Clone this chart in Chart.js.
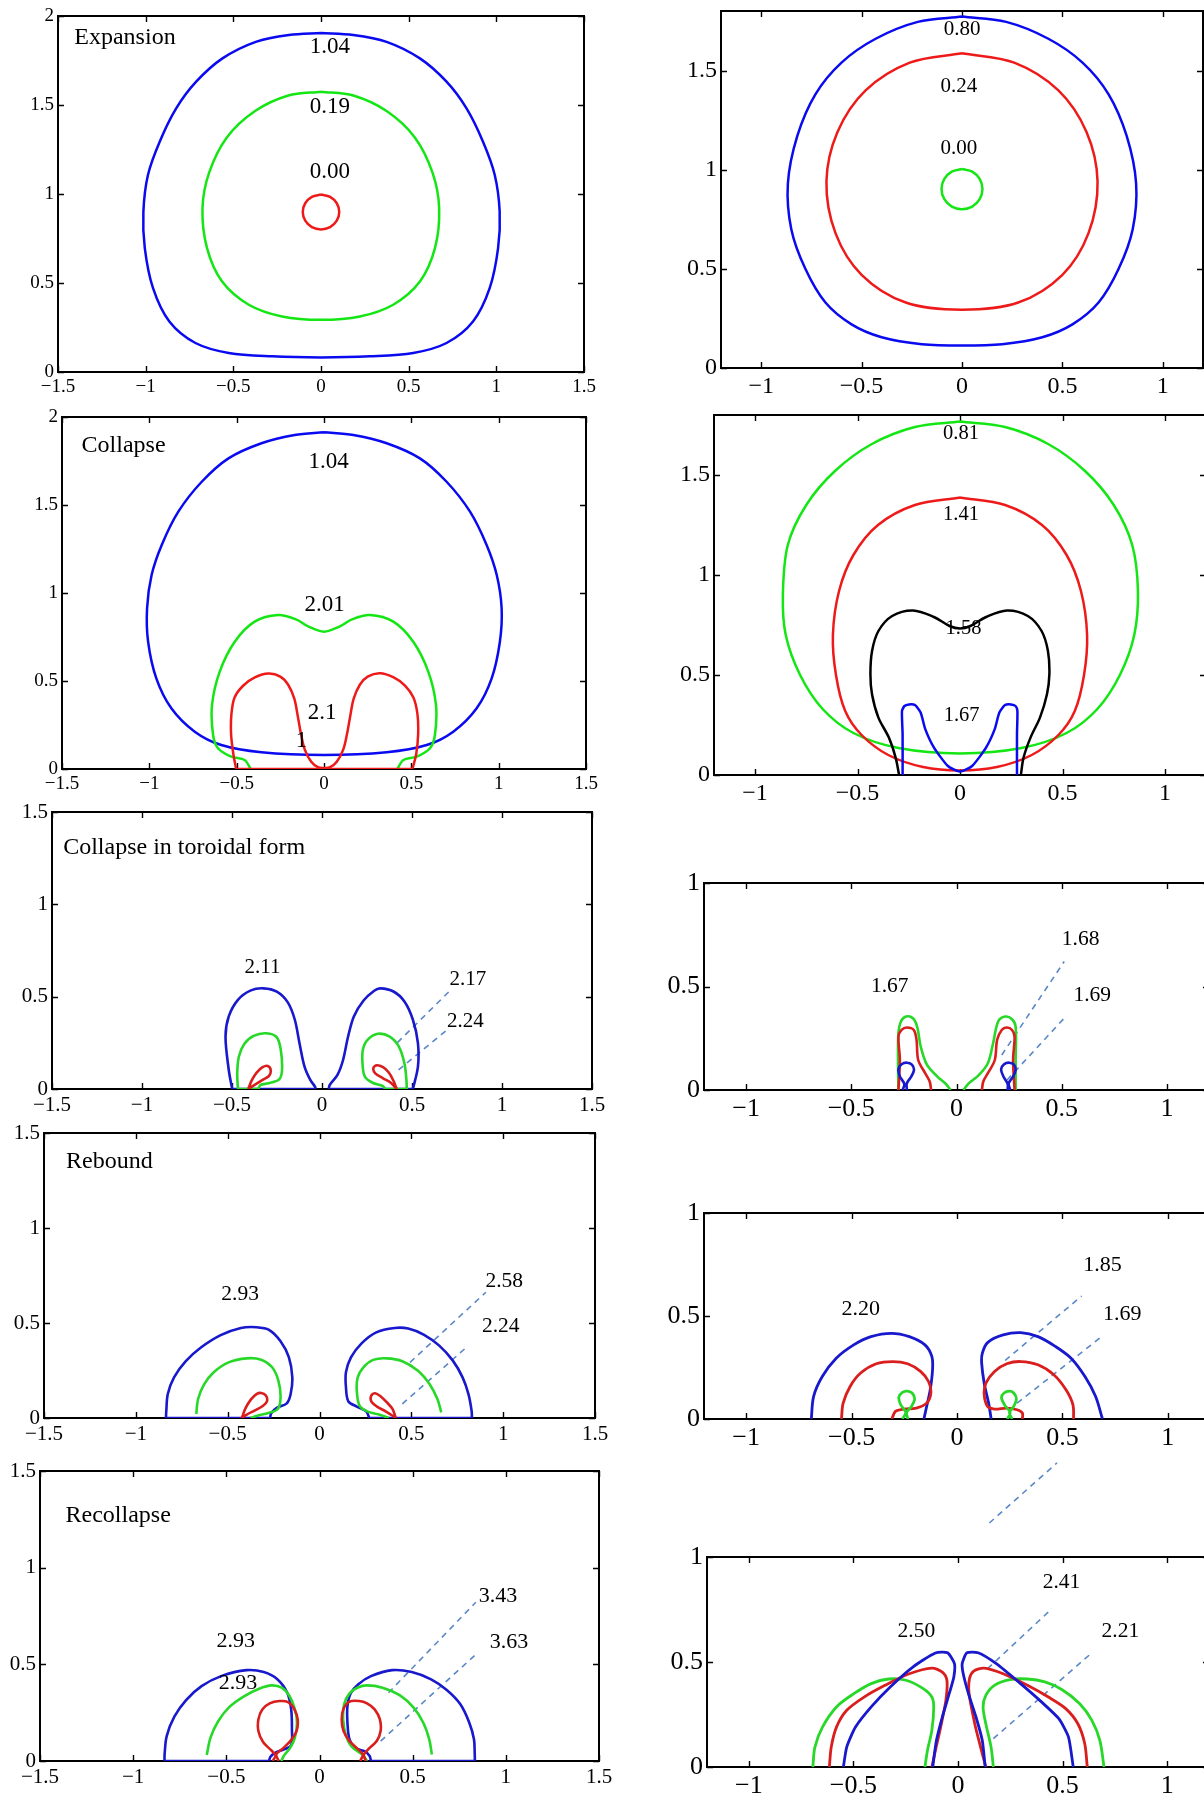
<!DOCTYPE html>
<html>
<head>
<meta charset="utf-8">
<title>Bubble contours</title>
<script src="https://cdn.jsdelivr.net/npm/chart.js@4.4.1/dist/chart.umd.min.js"></script>
<style>
  html, body { margin: 0; padding: 0; background: #fff; }
  body { position: relative; width: 1204px; height: 1798px; overflow: hidden; }
  canvas { position: absolute; }
</style>
</head>
<body>
<script>
/* Contour panels: left column and right column, five stages each */

// tick values
var X_WIDE = [-1.5, -1, -0.5, 0, 0.5, 1, 1.5];
var X_NARROW = [-1, -0.5, 0, 0.5, 1];
var Y_TWO = [0, 0.5, 1, 1.5, 2];
var Y_ONE_HALF = [0, 0.5, 1, 1.5];
var Y_ONE = [0, 0.5, 1];

// --- left column: expansion ---
var expBlue = [[0,1.904],[0.184,1.893],[0.374,1.855],[0.564,1.762],[0.716,1.631],[0.830,1.481],[0.924,1.294],[0.991,1.107],[1.019,0.901],[1.010,0.696],[0.962,0.471],[0.867,0.284],[0.716,0.163],[0.526,0.107],[0.279,0.088],[0,0.082],[-0.279,0.088],[-0.526,0.107],[-0.716,0.163],[-0.865,0.284],[-0.958,0.471],[-1.005,0.696],[-1.013,0.901],[-0.987,1.107],[-0.920,1.294],[-0.826,1.481],[-0.712,1.631],[-0.562,1.762],[-0.372,1.855],[-0.183,1.893],[0,1.904]];
var expGreen = [[0,1.575],[0.184,1.553],[0.374,1.466],[0.535,1.318],[0.636,1.120],[0.674,0.920],[0.650,0.696],[0.564,0.508],[0.412,0.378],[0.222,0.312],[0,0.293],[-0.222,0.312],[-0.412,0.378],[-0.564,0.508],[-0.650,0.696],[-0.676,0.920],[-0.638,1.120],[-0.537,1.318],[-0.376,1.466],[-0.186,1.553],[0,1.575]];
var expRed = [[0,0.997],[0.052,0.984],[0.090,0.948],[0.104,0.899],[0.090,0.850],[0.052,0.814],[0,0.801],[-0.052,0.814],[-0.090,0.850],[-0.104,0.899],[-0.090,0.948],[-0.052,0.984],[0,0.997]];

// --- left column: collapse ---
var colBlue = [[0,1.913],[0.168,1.898],[0.359,1.851],[0.549,1.765],[0.702,1.632],[0.836,1.462],[0.931,1.273],[0.989,1.102],[1.017,0.913],[1.007,0.723],[0.960,0.515],[0.874,0.345],[0.740,0.212],[0.588,0.136],[0.359,0.095],[0,0.080],[-0.359,0.095],[-0.588,0.136],[-0.740,0.212],[-0.874,0.345],[-0.960,0.515],[-1.007,0.723],[-1.013,0.913],[-0.987,1.102],[-0.929,1.273],[-0.834,1.462],[-0.700,1.632],[-0.547,1.765],[-0.358,1.851],[-0.168,1.898],[0,1.913]];
var colGreen = [[-0.420,0],[-0.454,0.051],[-0.531,0.070],[-0.607,0.118],[-0.635,0.193],[-0.641,0.364],[-0.597,0.553],[-0.511,0.723],[-0.397,0.837],[-0.263,0.875],[-0.160,0.850],[-0.088,0.809],[0,0.780],[0.088,0.809],[0.160,0.850],[0.263,0.875],[0.397,0.837],[0.511,0.723],[0.597,0.553],[0.641,0.364],[0.635,0.193],[0.607,0.118],[0.531,0.070],[0.454,0.051],[0.420,0]];
var colRed = [[-0.503,0],[-0.519,0.085],[-0.532,0.198],[-0.530,0.312],[-0.512,0.406],[-0.463,0.473],[-0.396,0.520],[-0.318,0.542],[-0.250,0.525],[-0.206,0.480],[-0.170,0.400],[-0.150,0.300],[-0.132,0.200],[-0.110,0.110],[-0.073,0.041],[-0.035,0.010],[0,0.006],[0.035,0.010],[0.073,0.041],[0.110,0.110],[0.132,0.200],[0.150,0.300],[0.170,0.400],[0.206,0.480],[0.250,0.525],[0.320,0.544],[0.399,0.520],[0.465,0.473],[0.512,0.406],[0.535,0.312],[0.539,0.198],[0.528,0.085],[0.506,0]];
var colRedBase = [[-0.503,0],[0.506,0]];

// --- left column: collapse in toroidal form ---
var torBlueL = [[-0.499,0],[-0.518,0.103],[-0.536,0.284],[-0.518,0.393],[-0.467,0.483],[-0.395,0.534],[-0.324,0.545],[-0.251,0.527],[-0.190,0.469],[-0.151,0.375],[-0.125,0.248],[-0.097,0.121],[-0.065,0.049],[-0.039,0.013],[-0.035,0]];
var torBlueR = [[0.037,0],[0.043,0.022],[0.086,0.076],[0.117,0.157],[0.145,0.284],[0.177,0.393],[0.231,0.479],[0.290,0.532],[0.324,0.545],[0.397,0.528],[0.458,0.474],[0.505,0.375],[0.533,0.248],[0.533,0.121],[0.505,0]];
var torBlueBaseL = [[-0.499,0],[-0.035,0]];
var torBlueBaseR = [[0.037,0],[0.505,0]];
var torGreenL = [[-0.467,0],[-0.471,0.085],[-0.462,0.175],[-0.432,0.244],[-0.380,0.288],[-0.309,0.302],[-0.251,0.280],[-0.229,0.212],[-0.222,0.103],[-0.238,0.052],[-0.298,0.031],[-0.341,0.022],[-0.354,0]];
var torGreenR = [[0.350,0],[0.339,0.016],[0.281,0.034],[0.238,0.067],[0.225,0.139],[0.227,0.212],[0.253,0.266],[0.311,0.299],[0.376,0.284],[0.425,0.233],[0.458,0.139],[0.469,0.049],[0.471,0]];
var torGreenBaseL = [[-0.467,0],[-0.354,0]];
var torGreenBaseR = [[0.350,0],[0.471,0]];
var torRedL = [[-0.410,0],[-0.389,0.049],[-0.363,0.089],[-0.330,0.118],[-0.302,0.125],[-0.285,0.103],[-0.294,0.071],[-0.330,0.049],[-0.374,0.022],[-0.410,0]];
var torRedR = [[0.415,0],[0.382,0.034],[0.339,0.058],[0.296,0.085],[0.285,0.112],[0.302,0.128],[0.339,0.118],[0.371,0.089],[0.397,0.045],[0.415,0]];
var torLead1 = [[0.419,0.251],[0.706,0.528]];
var torLead2 = [[0.425,0.103],[0.695,0.320]];

// --- left column: rebound ---
var rebBlueL = [[-0.836,0],[-0.834,0.039],[-0.826,0.126],[-0.792,0.214],[-0.728,0.299],[-0.644,0.372],[-0.538,0.436],[-0.428,0.474],[-0.343,0.478],[-0.275,0.464],[-0.212,0.404],[-0.167,0.320],[-0.148,0.214],[-0.157,0.126],[-0.178,0.077],[-0.233,0.053],[-0.263,0.025],[-0.269,0]];
var rebBlueR = [[0.271,0],[0.254,0.035],[0.203,0.060],[0.157,0.088],[0.144,0.162],[0.144,0.241],[0.172,0.320],[0.229,0.393],[0.309,0.451],[0.409,0.474],[0.483,0.471],[0.567,0.439],[0.652,0.381],[0.726,0.302],[0.779,0.214],[0.811,0.126],[0.828,0.039],[0.830,0]];
var rebBlueBaseL = [[-0.836,0],[-0.269,0]];
var rebBlueBaseR = [[0.271,0],[0.830,0]];
var rebGreenL = [[-0.671,0.021],[-0.661,0.100],[-0.629,0.176],[-0.576,0.241],[-0.495,0.293],[-0.396,0.314],[-0.318,0.307],[-0.258,0.267],[-0.224,0.197],[-0.212,0.109],[-0.227,0.047],[-0.279,0.026],[-0.339,0.012],[-0.375,0]];
var rebGreenR = [[0.377,0],[0.324,0.018],[0.260,0.035],[0.218,0.065],[0.203,0.144],[0.208,0.214],[0.239,0.267],[0.292,0.306],[0.366,0.314],[0.451,0.299],[0.536,0.249],[0.599,0.179],[0.642,0.100],[0.663,0.030]];
var rebRedL = [[-0.423,0],[-0.402,0.053],[-0.373,0.098],[-0.343,0.126],[-0.318,0.132],[-0.292,0.118],[-0.286,0.088],[-0.309,0.063],[-0.354,0.039],[-0.396,0.018],[-0.423,0]];
var rebRedR = [[0.415,0],[0.398,0.047],[0.366,0.083],[0.335,0.112],[0.303,0.130],[0.282,0.118],[0.282,0.088],[0.313,0.060],[0.360,0.035],[0.398,0.012],[0.415,0]];
var rebLead1 = [[0.493,0.293],[0.906,0.662]];
var rebLead2 = [[0.451,0.074],[0.800,0.372]];

// --- left column: recollapse ---
var recBlueL = [[-0.832,0],[-0.831,0.038],[-0.820,0.129],[-0.779,0.229],[-0.716,0.315],[-0.633,0.387],[-0.528,0.439],[-0.392,0.470],[-0.299,0.460],[-0.225,0.422],[-0.173,0.353],[-0.152,0.267],[-0.148,0.164],[-0.152,0.081],[-0.190,0.060],[-0.236,0.043],[-0.263,0.022],[-0.271,0]];
var recBlueR = [[0.276,0],[0.269,0.026],[0.244,0.050],[0.192,0.067],[0.161,0.112],[0.150,0.198],[0.150,0.284],[0.167,0.350],[0.207,0.396],[0.276,0.439],[0.390,0.470],[0.495,0.460],[0.599,0.422],[0.683,0.367],[0.756,0.293],[0.804,0.198],[0.829,0.112],[0.833,0.038],[0.834,0]];
var recBlueBaseL = [[-0.832,0],[-0.271,0]];
var recBlueBaseR = [[0.276,0],[0.834,0]];
var recGreenL = [[-0.605,0.031],[-0.585,0.121],[-0.543,0.207],[-0.482,0.281],[-0.403,0.336],[-0.324,0.374],[-0.257,0.391],[-0.203,0.379],[-0.161,0.336],[-0.132,0.267],[-0.121,0.198],[-0.132,0.121],[-0.157,0.069],[-0.190,0.029],[-0.205,0]];
var recGreenR = [[0.255,0],[0.234,0.029],[0.171,0.077],[0.140,0.138],[0.127,0.215],[0.132,0.293],[0.161,0.350],[0.203,0.379],[0.255,0.391],[0.338,0.379],[0.432,0.339],[0.505,0.276],[0.557,0.198],[0.589,0.112],[0.603,0.034]];
var recRedL = [[-0.251,0],[-0.236,0.029],[-0.261,0.057],[-0.303,0.098],[-0.328,0.155],[-0.328,0.215],[-0.307,0.267],[-0.267,0.298],[-0.215,0.310],[-0.169,0.305],[-0.136,0.270],[-0.117,0.215],[-0.123,0.155],[-0.157,0.103],[-0.198,0.064],[-0.232,0.034],[-0.219,0]];
var recRedR = [[0.219,0],[0.234,0.029],[0.265,0.064],[0.307,0.103],[0.328,0.155],[0.324,0.215],[0.296,0.267],[0.255,0.298],[0.213,0.310],[0.161,0.307],[0.129,0.270],[0.119,0.215],[0.129,0.155],[0.161,0.103],[0.203,0.064],[0.234,0.034],[0.248,0]];
var recLead1 = [[0.370,0.353],[0.839,0.821]];
var recLead2 = [[0.328,0.103],[0.833,0.546]];

// --- right column: expansion ---
var exp2Blue = [[0,1.772],[0.22,1.745],[0.43,1.66],[0.60,1.54],[0.73,1.38],[0.82,1.17],[0.867,0.93],[0.85,0.70],[0.78,0.50],[0.68,0.33],[0.55,0.22],[0.40,0.155],[0.20,0.12],[0,0.113],[-0.20,0.12],[-0.40,0.155],[-0.55,0.22],[-0.68,0.33],[-0.78,0.50],[-0.85,0.70],[-0.867,0.93],[-0.82,1.17],[-0.73,1.38],[-0.60,1.54],[-0.43,1.66],[-0.22,1.745],[0,1.772]];
var exp2Red = [[0,1.587],[0.26,1.54],[0.48,1.40],[0.62,1.19],[0.675,0.94],[0.63,0.68],[0.50,0.47],[0.28,0.33],[0,0.294],[-0.28,0.33],[-0.50,0.47],[-0.63,0.68],[-0.675,0.94],[-0.62,1.19],[-0.48,1.40],[-0.26,1.54],[0,1.587]];
var exp2Green = [[0,1.003],[0.051,0.990],[0.088,0.953],[0.102,0.902],[0.088,0.851],[0.051,0.814],[0,0.801],[-0.051,0.814],[-0.088,0.851],[-0.102,0.902],[-0.088,0.953],[-0.051,0.990],[0,1.003]];

// --- right column: collapse ---
var col2Green = [[0,1.767],[0.22,1.74],[0.43,1.655],[0.61,1.52],[0.75,1.35],[0.84,1.15],[0.868,0.92],[0.85,0.70],[0.78,0.50],[0.67,0.33],[0.52,0.21],[0.30,0.135],[0,0.108],[-0.30,0.135],[-0.52,0.21],[-0.67,0.33],[-0.78,0.50],[-0.85,0.70],[-0.864,0.90],[-0.84,1.15],[-0.75,1.35],[-0.61,1.52],[-0.43,1.655],[-0.22,1.74],[0,1.767]];
var col2Red = [[0,1.387],[0.22,1.35],[0.40,1.25],[0.52,1.10],[0.59,0.92],[0.62,0.70],[0.605,0.50],[0.56,0.32],[0.48,0.20],[0.35,0.10],[0.18,0.04],[0,0.023],[-0.18,0.04],[-0.35,0.10],[-0.48,0.20],[-0.56,0.32],[-0.605,0.50],[-0.62,0.70],[-0.59,0.92],[-0.52,1.10],[-0.40,1.25],[-0.22,1.35],[0,1.387]];
var col2Black = [[-0.297,0],[-0.314,0.087],[-0.347,0.187],[-0.398,0.287],[-0.429,0.403],[-0.437,0.503],[-0.429,0.620],[-0.398,0.720],[-0.331,0.795],[-0.229,0.823],[-0.127,0.790],[-0.051,0.745],[0,0.733],[0.051,0.745],[0.127,0.790],[0.229,0.823],[0.331,0.795],[0.398,0.720],[0.429,0.620],[0.436,0.503],[0.424,0.403],[0.390,0.287],[0.344,0.187],[0.310,0.087],[0.297,0]];
var col2Blue = [[-0.280,0],[-0.280,0.203],[-0.283,0.320],[-0.271,0.345],[-0.249,0.353],[-0.220,0.350],[-0.192,0.312],[-0.169,0.228],[-0.127,0.137],[-0.059,0.045],[0,0.017],[0.059,0.045],[0.127,0.137],[0.169,0.228],[0.192,0.312],[0.220,0.350],[0.249,0.353],[0.271,0.345],[0.280,0.320],[0.278,0.203],[0.278,0]];

// --- right column: toroidal collapse ---
var tor2GreenL = [[-0.276,0],[-0.278,0.145],[-0.276,0.274],[-0.264,0.331],[-0.240,0.355],[-0.207,0.347],[-0.187,0.306],[-0.170,0.210],[-0.140,0.121],[-0.091,0.065],[-0.050,0.029],[-0.028,0]];
var tor2GreenR = [[0.033,0],[0.058,0.032],[0.107,0.073],[0.149,0.129],[0.174,0.226],[0.198,0.331],[0.231,0.355],[0.264,0.342],[0.281,0.306],[0.281,0.145],[0.281,0]];
var tor2RedL = [[-0.276,0],[-0.269,0.145],[-0.276,0.258],[-0.261,0.290],[-0.236,0.302],[-0.203,0.290],[-0.190,0.242],[-0.182,0.145],[-0.149,0.081],[-0.127,0.040],[-0.121,0]];
var tor2RedR = [[0.121,0],[0.127,0.040],[0.149,0.081],[0.182,0.145],[0.193,0.242],[0.215,0.290],[0.240,0.302],[0.264,0.290],[0.276,0.258],[0.269,0.145],[0.276,0]];
var tor2BlueL = [[-0.256,0],[-0.248,0.029],[-0.269,0.065],[-0.276,0.100],[-0.261,0.124],[-0.236,0.132],[-0.212,0.123],[-0.202,0.097],[-0.215,0.065],[-0.236,0.032],[-0.236,0]];
var tor2BlueR = [[0.243,0],[0.243,0.029],[0.223,0.065],[0.212,0.100],[0.226,0.124],[0.250,0.132],[0.273,0.123],[0.281,0.097],[0.269,0.065],[0.248,0.032],[0.256,0]];
var tor2Lead1 = [[0.215,0.169],[0.512,0.621]];
var tor2Lead2 = [[0.240,0.048],[0.512,0.347]];

// --- right column: rebound ---
var reb2BlueL = [[-0.691,0],[-0.680,0.110],[-0.639,0.206],[-0.573,0.295],[-0.490,0.360],[-0.408,0.400],[-0.312,0.416],[-0.226,0.400],[-0.152,0.360],[-0.119,0.303],[-0.116,0.239],[-0.127,0.142],[-0.144,0.061],[-0.157,0]];
var reb2BlueR = [[0.162,0],[0.150,0.077],[0.129,0.174],[0.117,0.271],[0.120,0.319],[0.145,0.371],[0.219,0.408],[0.302,0.419],[0.384,0.400],[0.467,0.352],[0.541,0.295],[0.607,0.206],[0.657,0.110],[0.690,0]];
var reb2RedL = [[-0.548,0],[-0.540,0.077],[-0.507,0.158],[-0.457,0.223],[-0.383,0.268],[-0.305,0.279],[-0.234,0.268],[-0.173,0.231],[-0.135,0.182],[-0.124,0.126],[-0.144,0.077],[-0.193,0.053],[-0.251,0.048],[-0.292,0.037],[-0.309,0]];
var reb2RedR = [[0.310,0],[0.310,0.029],[0.285,0.045],[0.236,0.053],[0.178,0.048],[0.145,0.061],[0.129,0.118],[0.137,0.174],[0.178,0.231],[0.236,0.268],[0.302,0.279],[0.384,0.263],[0.459,0.215],[0.517,0.142],[0.550,0.069],[0.553,0]];
var reb2GreenL = [[-0.259,0],[-0.243,0.032],[-0.267,0.069],[-0.276,0.106],[-0.259,0.129],[-0.236,0.135],[-0.213,0.126],[-0.201,0.097],[-0.216,0.061],[-0.239,0.032],[-0.233,0]];
var reb2GreenR = [[0.239,0],[0.252,0.032],[0.228,0.065],[0.211,0.102],[0.223,0.126],[0.249,0.135],[0.269,0.126],[0.282,0.097],[0.269,0.061],[0.249,0.032],[0.261,0]];
var reb2Lead1 = [[0.228,0.284],[0.591,0.597]];
var reb2Lead2 = [[0.285,0.077],[0.690,0.403]];

// --- right column: recollapse ---
var rec2GreenL = [[-0.694,0],[-0.684,0.095],[-0.648,0.190],[-0.581,0.286],[-0.498,0.349],[-0.415,0.397],[-0.332,0.419],[-0.249,0.413],[-0.166,0.373],[-0.125,0.333],[-0.116,0.286],[-0.125,0.175],[-0.146,0.079],[-0.158,0]];
var rec2GreenR = [[0.169,0],[0.158,0.095],[0.133,0.206],[0.120,0.286],[0.133,0.341],[0.174,0.389],[0.249,0.416],[0.332,0.419],[0.415,0.405],[0.498,0.368],[0.581,0.302],[0.640,0.222],[0.678,0.127],[0.698,0]];
var rec2RedL = [[-0.615,0],[-0.606,0.095],[-0.581,0.190],[-0.532,0.270],[-0.449,0.333],[-0.349,0.389],[-0.233,0.444],[-0.125,0.471],[-0.075,0.452],[-0.053,0.413],[-0.058,0.317],[-0.083,0.190],[-0.108,0.079],[-0.125,0]];
var rec2RedR = [[0.133,0],[0.108,0.095],[0.080,0.206],[0.053,0.349],[0.055,0.421],[0.075,0.457],[0.125,0.471],[0.216,0.444],[0.332,0.389],[0.432,0.333],[0.515,0.278],[0.573,0.206],[0.606,0.111],[0.618,0]];
var rec2BlueL = [[-0.548,0],[-0.532,0.095],[-0.490,0.190],[-0.415,0.286],[-0.324,0.381],[-0.216,0.476],[-0.108,0.543],[-0.050,0.544],[-0.017,0.492],[-0.020,0.429],[-0.042,0.349],[-0.075,0.238],[-0.103,0.127],[-0.121,0]];
var rec2BlueR = [[0.130,0],[0.116,0.127],[0.086,0.238],[0.050,0.349],[0.025,0.444],[0.020,0.492],[0.042,0.543],[0.096,0.544],[0.183,0.492],[0.299,0.397],[0.399,0.310],[0.482,0.230],[0.528,0.143],[0.551,0]];
var rec2Lead1 = [[0.141,0.468],[0.449,0.754]];
var rec2Lead2 = [[0.169,0.135],[0.645,0.548]];
var rec2LeadUpper = [[0.150,1.162],[0.473,1.448]];

var BLUE = '#0a0af0', GREEN = '#14e614', RED = '#ee1a1a', BLACK = '#000000';
var SOFT_BLUE = '#1818cc', SOFT_GREEN = '#28d828', SOFT_RED = '#da1e1e';
var LEAD = '#5a88c6';
var FONT = '"Liberation Serif", "Times New Roman", serif';

var panels = [
  { left: 0, area: [58, 584, 16, 372], x: [-1.5, 1.5], y: [0, 2], xTicks: X_WIDE, yTicks: Y_TWO, tickSize: 19, lw: 2.5,
    curves: [[expRed, RED, { tension: 0.35 }], [expGreen, GREEN], [expBlue, BLUE]],
    text: [['Expansion', -1.407, 1.876, 24, 'left'], ['1.04', 0.051, 1.826, 23], ['0.19', 0.051, 1.489, 23], ['0.00', 0.051, 1.124, 23]] },
  { left: 0, area: [62, 586, 417, 769], x: [-1.5, 1.5], y: [0, 2], xTicks: X_WIDE, yTicks: Y_TWO, tickSize: 19, lw: 2.5,
    curves: [[colRed, RED], [colRedBase, RED, { tension: 0 }], [colGreen, GREEN], [colBlue, BLUE]],
    text: [['Collapse', -1.388, 1.837, 24, 'left'], ['1.04', 0.027, 1.745, 23], ['2.01', 0.004, 0.932, 23], ['2.1', -0.011, 0.316, 23], ['1', -0.129, 0.157, 23]] },
  { left: 0, area: [52, 592, 812, 1089], x: [-1.5, 1.5], y: [0, 1.5], xTicks: X_WIDE, yTicks: Y_ONE_HALF, tickSize: 21, lw: 2.6, soft: true,
    curves: [[torRedL], [torRedR], [torGreenL, 'g'], [torGreenR, 'g'], [torGreenBaseL, 'g', { tension: 0 }], [torGreenBaseR, 'g', { tension: 0 }],
             [torBlueL, 'b'], [torBlueR, 'b'], [torBlueBaseL, 'b', { tension: 0 }], [torBlueBaseR, 'b', { tension: 0 }],
             [torLead1, LEAD, { lead: true }], [torLead2, LEAD, { lead: true }]],
    text: [['Collapse in toroidal form', -1.438, 1.306, 24, 'left'], ['2.11', -0.330, 0.660, 21], ['2.17', 0.810, 0.592, 21], ['2.24', 0.797, 0.365, 21]] },
  { left: 0, area: [44, 595, 1133, 1418], x: [-1.5, 1.5], y: [0, 1.5], xTicks: X_WIDE, yTicks: Y_ONE_HALF, tickSize: 21, lw: 2.6, soft: true,
    curves: [[rebRedL], [rebRedR], [rebGreenL, 'g'], [rebGreenR, 'g'], [rebBlueL, 'b'], [rebBlueR, 'b'],
             [rebBlueBaseL, 'b', { tension: 0 }], [rebBlueBaseR, 'b', { tension: 0 }],
             [rebLead1, LEAD, { lead: true }], [rebLead2, LEAD, { lead: true }]],
    text: [['Rebound', -1.380, 1.347, 24, 'left'], ['2.93', -0.432, 0.650, 21.5], ['2.58', 1.006, 0.720, 21.5], ['2.24', 0.987, 0.483, 21.5]] },
  { left: 0, area: [40, 599, 1471, 1761], x: [-1.5, 1.5], y: [0, 1.5], xTicks: X_WIDE, yTicks: Y_ONE_HALF, tickSize: 21, lw: 2.6, soft: true,
    curves: [[recRedL], [recRedR], [recGreenL, 'g'], [recGreenR, 'g'], [recBlueL, 'b'], [recBlueR, 'b'],
             [recBlueBaseL, 'b', { tension: 0 }], [recBlueBaseR, 'b', { tension: 0 }],
             [recLead1, LEAD, { lead: true }], [recLead2, LEAD, { lead: true }]],
    text: [['Recollapse', -1.363, 1.269, 24, 'left'], ['2.93', -0.449, 0.620, 22], ['2.93', -0.438, 0.401, 22], ['3.43', 0.958, 0.852, 22], ['3.63', 1.017, 0.615, 22]] },

  { left: 650, area: [721, 1203, 11, 368], x: [-1.2, 1.2], y: [0, 1.8], xTicks: X_NARROW, yTicks: Y_ONE_HALF, tickSize: 24, lw: 2.5,
    curves: [[exp2Green, GREEN, { tension: 0.35 }], [exp2Red, RED], [exp2Blue, BLUE]],
    text: [['0.80', 0, 1.708, 21], ['0.24', -0.016, 1.419, 21], ['0.00', -0.016, 1.105, 21]] },
  { left: 650, area: [714, 1206, 415, 775], x: [-1.2, 1.2], y: [0, 1.8], xTicks: X_NARROW, yTicks: Y_ONE_HALF, tickSize: 24, lw: 2.5,
    curves: [[col2Blue, BLUE, { tension: 0.2 }], [col2Black, BLACK], [col2Red, RED], [col2Green, GREEN]],
    text: [['0.81', 0.005, 1.707, 20.5], ['1.41', 0.005, 1.303, 20.5], ['1.58', 0.017, 0.732, 20.5], ['1.67', 0.008, 0.295, 20.5]] },
  { left: 650, area: [704, 1209, 883, 1090], x: [-1.2, 1.2], y: [0, 1], xTicks: X_NARROW, yTicks: Y_ONE, tickSize: 26, lw: 2.6, soft: true,
    curves: [[tor2BlueL, 'b'], [tor2BlueR, 'b'], [tor2RedL], [tor2RedR], [tor2GreenL, 'g'], [tor2GreenR, 'g'],
             [tor2Lead1, LEAD, { lead: true }], [tor2Lead2, LEAD, { lead: true }]],
    text: [['1.67', -0.317, 0.500, 21.5], ['1.68', 0.590, 0.729, 21.5], ['1.69', 0.645, 0.455, 21.5]] },
  { left: 650, area: [704, 1210, 1213, 1419], x: [-1.2, 1.2], y: [0, 1], xTicks: X_NARROW, yTicks: Y_ONE, tickSize: 26, lw: 2.8, soft: true,
    curves: [[reb2GreenL, 'g'], [reb2GreenR, 'g'], [reb2RedL], [reb2RedR], [reb2BlueL, 'b'], [reb2BlueR, 'b'],
             [reb2Lead1, LEAD, { lead: true }], [reb2Lead2, LEAD, { lead: true }]],
    text: [['2.20', -0.457, 0.532, 22], ['1.85', 0.690, 0.747, 22], ['1.69', 0.784, 0.508, 22]] },
  { left: 650, area: [707, 1209, 1557, 1767], padTop: 120, x: [-1.2, 1.2], y: [0, 1], xTicks: X_NARROW, yTicks: Y_ONE, tickSize: 26, lw: 2.8, soft: true,
    curves: [[rec2BlueL, 'b', { tension: 0.2 }], [rec2BlueR, 'b', { tension: 0.2 }], [rec2RedL, null, { tension: 0.28 }], [rec2RedR, null, { tension: 0.28 }], [rec2GreenL, 'g'], [rec2GreenR, 'g'],
             [rec2Lead1, LEAD, { lead: true }], [rec2Lead2, LEAD, { lead: true }], [rec2LeadUpper, LEAD, { lead: true, clip: false }]],
    text: [['2.50', -0.199, 0.646, 21.5], ['2.41', 0.495, 0.881, 21.5], ['2.21', 0.776, 0.646, 21.5]] }
];

function pts(a) {
  return a.map(function (p) { return { x: p[0], y: p[1] }; });
}

function fmt(v) {
  return (v < 0 ? '\u2212' : '') + Math.abs(v);
}

function pickColor(c, soft) {
  if (c === 'b') return soft ? SOFT_BLUE : BLUE;
  if (c === 'g') return soft ? SOFT_GREEN : GREEN;
  if (!c) return soft ? SOFT_RED : RED;
  return c;
}

// box with inward ticks on all four sides
var framePlugin = {
  id: 'frame',
  beforeDatasetsDraw: function (chart) {
    var ctx = chart.ctx, a = chart.chartArea, sx = chart.scales.x, sy = chart.scales.y;
    ctx.save();
    ctx.strokeStyle = '#000';
    ctx.lineWidth = 1.4;
    ctx.beginPath();
    sx.ticks.forEach(function (t) {
      var px = Math.round(sx.getPixelForValue(t.value)) + 0.5;
      ctx.moveTo(px, a.bottom); ctx.lineTo(px, a.bottom - 6);
      ctx.moveTo(px, a.top); ctx.lineTo(px, a.top + 6);
    });
    sy.ticks.forEach(function (t) {
      var py = Math.round(sy.getPixelForValue(t.value)) + 0.5;
      ctx.moveTo(a.left, py); ctx.lineTo(a.left + 6, py);
      ctx.moveTo(a.right, py); ctx.lineTo(a.right - 6, py);
    });
    ctx.stroke();
    ctx.lineWidth = 2;
    ctx.strokeRect(a.left, a.top, a.right - a.left, a.bottom - a.top);
    ctx.restore();
  }
};

function textPlugin(items) {
  return {
    id: 'contourText',
    afterDatasetsDraw: function (chart) {
      var ctx = chart.ctx, sx = chart.scales.x, sy = chart.scales.y;
      ctx.save();
      ctx.fillStyle = '#000';
      ctx.textBaseline = 'middle';
      items.forEach(function (it) {
        ctx.font = it[3] + 'px ' + FONT;
        ctx.textAlign = it[4] || 'center';
        ctx.fillText(it[0], sx.getPixelForValue(it[1]), sy.getPixelForValue(it[2]));
      });
      ctx.restore();
    }
  };
}

function buildPanel(p) {
  var padL = p.area[0] - p.left;
  var padT = p.padTop || 24;
  var padB = 36, padR = 20;
  var canvas = document.createElement('canvas');
  canvas.width = p.area[1] - p.left + padR;
  canvas.height = p.area[3] - p.area[2] + padT + padB;
  canvas.style.left = p.left + 'px';
  canvas.style.top = (p.area[2] - padT) + 'px';
  canvas.style.width = canvas.width + 'px';
  canvas.style.height = canvas.height + 'px';
  document.body.appendChild(canvas);

  var datasets = p.curves.map(function (c) {
    var extra = c[2] || {};
    var ds = {
      data: pts(c[0]),
      showLine: true,
      borderColor: pickColor(c[1], p.soft),
      borderWidth: p.lw,
      pointRadius: 0,
      pointHoverRadius: 0,
      fill: false,
      tension: extra.tension !== undefined ? extra.tension : 0.33
    };
    if (extra.lead) {
      ds.borderWidth = 1.6;
      ds.borderDash = [6, 5];
      ds.tension = 0;
    }
    if (extra.clip === false) ds.clip = false;
    return ds;
  });

  var tickFont = { family: FONT, size: p.tickSize };

  new Chart(canvas, {
    type: 'scatter',
    data: { datasets: datasets },
    options: {
      responsive: false,
      animation: false,
      events: [],
      layout: { padding: { top: padT, right: padR, left: 0, bottom: 0 } },
      plugins: { legend: { display: false }, tooltip: { enabled: false } },
      scales: {
        x: {
          type: 'linear', min: p.x[0], max: p.x[1],
          grid: { display: false, drawTicks: false, tickLength: 0 },
          border: { display: false },
          ticks: { font: tickFont, color: '#000', padding: 4, autoSkip: false, maxRotation: 0, callback: fmt },
          afterBuildTicks: function (s) { s.ticks = p.xTicks.map(function (v) { return { value: v }; }); },
          afterFit: function (s) { s.height = padB; }
        },
        y: {
          type: 'linear', min: p.y[0], max: p.y[1],
          grid: { display: false, drawTicks: false, tickLength: 0 },
          border: { display: false },
          ticks: { font: tickFont, color: '#000', padding: 4, autoSkip: false, callback: fmt },
          afterBuildTicks: function (s) { s.ticks = p.yTicks.map(function (v) { return { value: v }; }); },
          afterFit: function (s) { s.width = padL; }
        }
      }
    },
    plugins: [framePlugin, textPlugin(p.text)]
  });
}

panels.forEach(buildPanel);
</script>
</body>
</html>
